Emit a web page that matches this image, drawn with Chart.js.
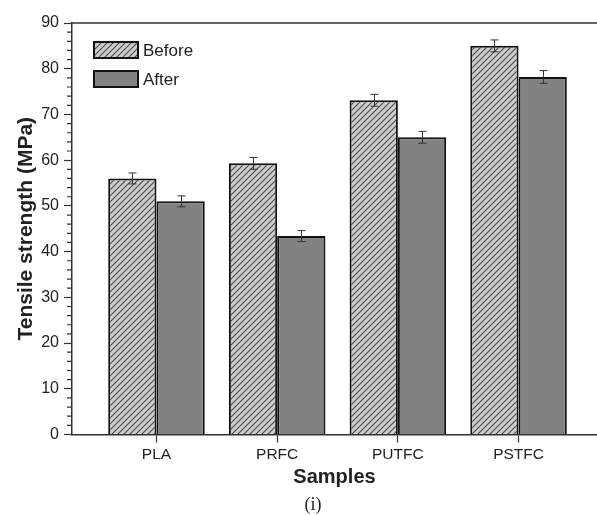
<!DOCTYPE html>
<html>
<head>
<meta charset="utf-8">
<script src="https://cdn.jsdelivr.net/npm/chart.js@4/dist/chart.umd.min.js"></script>
<style>
  html, body { margin: 0; padding: 0; background: #fff; overflow: hidden; }
</style>
</head>
<body>
<canvas id="chart" width="597" height="515"></canvas>
<script>
(function() {
    const categories = ['PLA', 'PRFC', 'PUTFC', 'PSTFC'];
    const beforeValues = [56.0, 59.3, 73.1, 85.0];
    const afterValues = [51.0, 43.4, 65.0, 78.2];
    const beforeErrors = [1.2, 1.3, 1.3, 1.3];
    const afterErrors = [1.2, 1.2, 1.3, 1.4];
    const seriesLabels = ['Before', 'After'];

    Chart.defaults.font.family = "'Liberation Sans', Arial, sans-serif";
    Chart.defaults.color = '#222';

    // diagonal hatch for the "Before" bars
    function hatch() {
        const s = 6;
        const c = document.createElement('canvas');
        c.width = s; c.height = s;
        const g = c.getContext('2d');
        g.fillStyle = '#cdcdcd';
        g.fillRect(0, 0, s, s);
        g.strokeStyle = '#4a4a4a';
        g.lineWidth = 1.1;
        g.beginPath();
        g.moveTo(0, s); g.lineTo(s, 0);
        g.moveTo(-1, 1); g.lineTo(1, -1);
        g.moveTo(s - 1, s + 1); g.lineTo(s + 1, s - 1);
        g.stroke();
        return g.createPattern(c, 'repeat');
    }
    const hatchFill = hatch();

    const errorBars = {
        id: 'errorBars',
        afterDatasetsDraw(chart) {
            const ctx = chart.ctx;
            const y = chart.scales.y;
            const errs = [beforeErrors, afterErrors];
            ctx.save();
            ctx.strokeStyle = '#333';
            ctx.lineWidth = 1;
            chart.data.datasets.forEach((ds, di) => {
                chart.getDatasetMeta(di).data.forEach((bar, i) => {
                    const v = ds.data[i].y;
                    const top = y.getPixelForValue(v + errs[di][i]);
                    const bot = y.getPixelForValue(v - errs[di][i]);
                    const x = Math.round(bar.x) + 0.5;
                    ctx.beginPath();
                    ctx.moveTo(x, top); ctx.lineTo(x, bot);
                    ctx.moveTo(x - 4, top); ctx.lineTo(x + 4, top);
                    ctx.moveTo(x - 4, bot); ctx.lineTo(x + 4, bot);
                    ctx.stroke();
                });
            });
            ctx.restore();
        }
    };

    const frameAndMinor = {
        id: 'frameAndMinor',
        afterDraw(chart) {
            const ctx = chart.ctx;
            const a = chart.chartArea;
            const y = chart.scales.y;
            ctx.save();
            ctx.strokeStyle = '#333';
            ctx.lineWidth = 1.5;
            ctx.beginPath();
            ctx.moveTo(a.left, a.top);
            ctx.lineTo(a.right, a.top);
            ctx.stroke();
            // minor ticks every 2 units
            ctx.lineWidth = 1.2;
            ctx.beginPath();
            for (let v = 2; v < 90; v += 2) {
                if (v % 10 === 0) continue;
                const p = y.getPixelForValue(v);
                ctx.moveTo(a.left - 5, p);
                ctx.lineTo(a.left, p);
            }
            ctx.stroke();

            // legend
            ctx.font = "17px 'Liberation Sans', Arial, sans-serif";
            ctx.textBaseline = 'middle';
            chart.data.datasets.forEach((ds, i) => {
                const bx = 94, by = 42 + i * 29, bw = 44, bh = 16;
                ctx.fillStyle = ds.backgroundColor;
                ctx.fillRect(bx, by, bw, bh);
                ctx.strokeStyle = '#111';
                ctx.lineWidth = 2;
                ctx.strokeRect(bx, by, bw, bh);
                ctx.fillStyle = '#222';
                ctx.fillText(ds.label, bx + bw + 5, by + bh / 2 + 1);
            });

            // caption
            ctx.font = "18px 'Liberation Serif', 'Times New Roman', serif";
            ctx.textAlign = 'center';
            ctx.fillStyle = '#222';
            ctx.fillText('(i)', 313, 505);
            ctx.restore();
        }
    };

    new Chart(document.getElementById('chart'), {
        type: 'bar',
        data: {
            datasets: [
                {
                    label: seriesLabels[0],
                    data: categories.map((c, i) => ({ x: i + 1, y: beforeValues[i] })),
                    backgroundColor: hatchFill,
                    borderColor: '#111',
                    borderWidth: 2
                },
                {
                    label: seriesLabels[1],
                    data: categories.map((c, i) => ({ x: i + 1, y: afterValues[i] })),
                    backgroundColor: '#828282',
                    borderColor: '#111',
                    borderWidth: 2
                }
            ]
        },
        options: {
            responsive: false,
            animation: false,
            devicePixelRatio: 1,
            categoryPercentage: 0.8,
            barPercentage: 1.0,
            layout: { padding: { top: 23, right: 0, left: 0, bottom: 0 } },
            plugins: {
                legend: { display: false },
                tooltip: { enabled: false }
            },
            scales: {
                x: {
                    type: 'linear',
                    min: 0.3,
                    max: 4.65,
                    offset: false,
                    afterBuildTicks: scale => {
                        scale.ticks = categories.map((c, i) => ({ value: i + 1 }));
                    },
                    afterFit: scale => { scale.height = 80.5; },
                    ticks: {
                        padding: 3,
                        maxRotation: 0,
                        font: { size: 15.5 },
                        callback: v => categories[v - 1] || ''
                    },
                    grid: {
                        drawOnChartArea: false,
                        offset: false,
                        tickLength: 8,
                        tickColor: '#333',
                        tickWidth: 1.2
                    },
                    border: { color: '#333', width: 1.5 },
                    title: {
                        display: true,
                        text: 'Samples',
                        font: { size: 20, weight: 'bold' },
                        padding: { top: 0, bottom: 26 }
                    }
                },
                y: {
                    min: 0,
                    max: 90,
                    afterFit: scale => { scale.width = 72; },
                    ticks: {
                        stepSize: 10,
                        padding: 5,
                        font: { size: 16 }
                    },
                    grid: {
                        drawOnChartArea: false,
                        tickLength: 8,
                        tickColor: '#333',
                        tickWidth: 1.2
                    },
                    border: { color: '#333', width: 1.5 },
                    title: {
                        display: true,
                        text: 'Tensile strength (MPa)',
                        font: { size: 21, weight: 'bold' },
                        padding: { top: 14, bottom: 0 }
                    }
                }
            }
        },
        plugins: [errorBars, frameAndMinor]
    });
})();
</script>
</body>
</html>
